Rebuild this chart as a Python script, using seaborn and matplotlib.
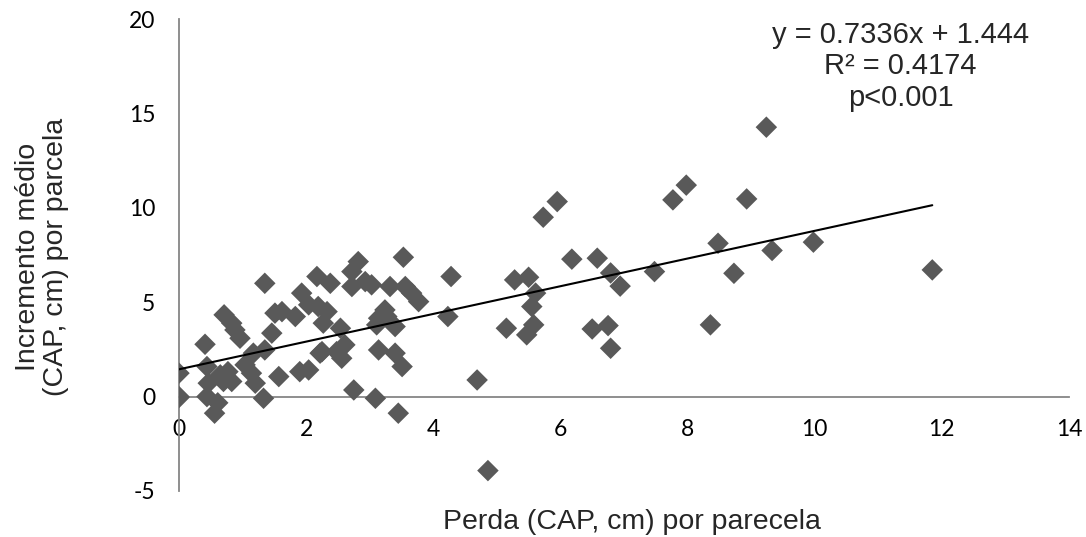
import matplotlib
matplotlib.use("Agg")
import matplotlib.pyplot as plt
import seaborn as sns
import numpy as np
import pandas as pd

# Data
perda = [
    11.85, 9.98, 9.33, 9.24, 8.93, 7.98, 7.77, 8.48, 8.73, 8.36, 7.48,
    6.58, 6.18, 6.79, 6.94, 5.95, 5.73, 4.28, 4.23, 5.28, 5.50, 5.61,
    5.55, 5.58, 5.47, 5.15, 6.50, 6.75, 6.79, 4.69, 4.86,
    1.35, 0.00, 0.00, 0.00, 0.41, 0.44, 0.46, 0.44, 0.56, 0.61, 0.65,
    0.77, 0.71, 0.83, 0.88, 0.96, 0.83, 1.04, 1.17, 1.20, 1.14, 1.33,
    1.35, 1.46, 1.51, 1.62, 1.57, 1.83, 1.90, 2.04, 1.93, 2.04, 2.17,
    2.19, 2.22, 0.70,
    2.82, 2.72, 3.53, 2.38, 2.72, 2.93, 3.03, 3.32, 3.56, 3.66, 3.77,
    2.33, 2.27, 2.54, 3.24, 3.27, 3.11, 3.40, 2.61, 2.25, 2.48, 2.56,
    3.14, 3.40, 3.51, 2.75, 3.09, 3.45, 3.14,
]
incremento = [
    6.71, 8.18, 7.74, 14.27, 10.47, 11.20, 10.42, 8.12, 6.53, 3.80, 6.62,
    7.33, 7.28, 6.55, 5.85, 10.33, 9.50, 6.36, 4.24, 6.18, 6.32, 5.48,
    4.77, 3.80, 3.27, 3.62, 3.58, 3.76, 2.56, 0.88, -3.92,
    6.00, 1.24, 0.00, -0.05, 2.77, 1.59, 0.71, 0.00, -0.88, -0.33, 1.15,
    1.32, 4.33, 3.89, 3.53, 3.09, 0.80, 1.68, 2.30, 0.71, 1.24, -0.09,
    2.47, 3.36, 4.42, 4.50, 1.06, 4.24, 1.32, 1.41, 5.48, 4.86, 6.36,
    4.77, 2.30, 0.80,
    7.15, 6.62, 7.38, 6.00, 5.83, 6.09, 5.92, 5.83, 5.83, 5.48, 5.03,
    4.50, 3.89, 3.62, 4.59, 4.24, 3.80, 3.71, 2.74, 2.38, 2.38, 2.03,
    2.47, 2.30, 1.59, 0.35, -0.09, -0.88, 4.15,
]
slope = 0.7336
intercept = 1.444
x_ticks = [0, 2, 4, 6, 8, 10, 12, 14]
y_ticks = [-5, 0, 5, 10, 15, 20]
eq_lines = ["y = 0.7336x + 1.444", "R² = 0.4174", "p<0.001"]
eq_baselines = [18.72, 17.08, 15.40]

df = pd.DataFrame({"perda": perda, "incremento": incremento})
fit_x = np.array([0.0, max(perda)])
fit = pd.DataFrame({"x": fit_x, "y": slope * fit_x + intercept})

sns.set_style("white")
plt.rcParams["font.family"] = ["Liberation Sans", "DejaVu Sans"]
plt.rcParams["axes.unicode_minus"] = False

fig = plt.figure(figsize=(10.86, 5.37), dpi=100)
ax = fig.add_axes([0.1648, 0.0857, 0.8195, 0.8789])

sns.scatterplot(data=df, x="perda", y="incremento", marker="D", s=120,
                color="#595959", edgecolor="none", linewidth=0, ax=ax, zorder=3)
sns.lineplot(data=fit, x="x", y="y", color="black", linewidth=1.5, ax=ax,
             zorder=4)

ax.set_xlim(0, 14)
ax.set_ylim(-5, 20)
ax.set_xticks(x_ticks)
ax.set_yticks(y_ticks)

for s in ["top", "right"]:
    ax.spines[s].set_visible(False)
ax.spines["bottom"].set_position(("data", 0))
ax.spines["left"].set_position(("data", 0))
for s in ["bottom", "left"]:
    ax.spines[s].set_color("#868686")
    ax.spines[s].set_linewidth(1.3)

ax.tick_params(axis="both", direction="out", length=5, width=1.3,
               color="#868686", labelsize=16.5, labelcolor="black")
for lab in ax.get_xticklabels() + ax.get_yticklabels():
    lab.set_family(["Lato", "DejaVu Sans"])
ax.tick_params(axis="x", pad=11)
ax.tick_params(axis="y", pad=12)

ax.set_xlabel("")
ax.set_ylabel("")
fig.text(0.582, 0.028, "Perda (CAP, cm) por parecela", ha="center",
         va="center", fontsize=20.5)
fig.text(0.039, 0.521, "Incremento médio\n(CAP, cm) por parcela",
         ha="center", va="center", rotation=90, fontsize=20.5,
         multialignment="center", linespacing=1.1)

for line, yb in zip(eq_lines, eq_baselines):
    ax.text(11.35, yb, line, ha="center", va="baseline", fontsize=21)

fig.savefig("out.png", dpi=100, facecolor="white")
